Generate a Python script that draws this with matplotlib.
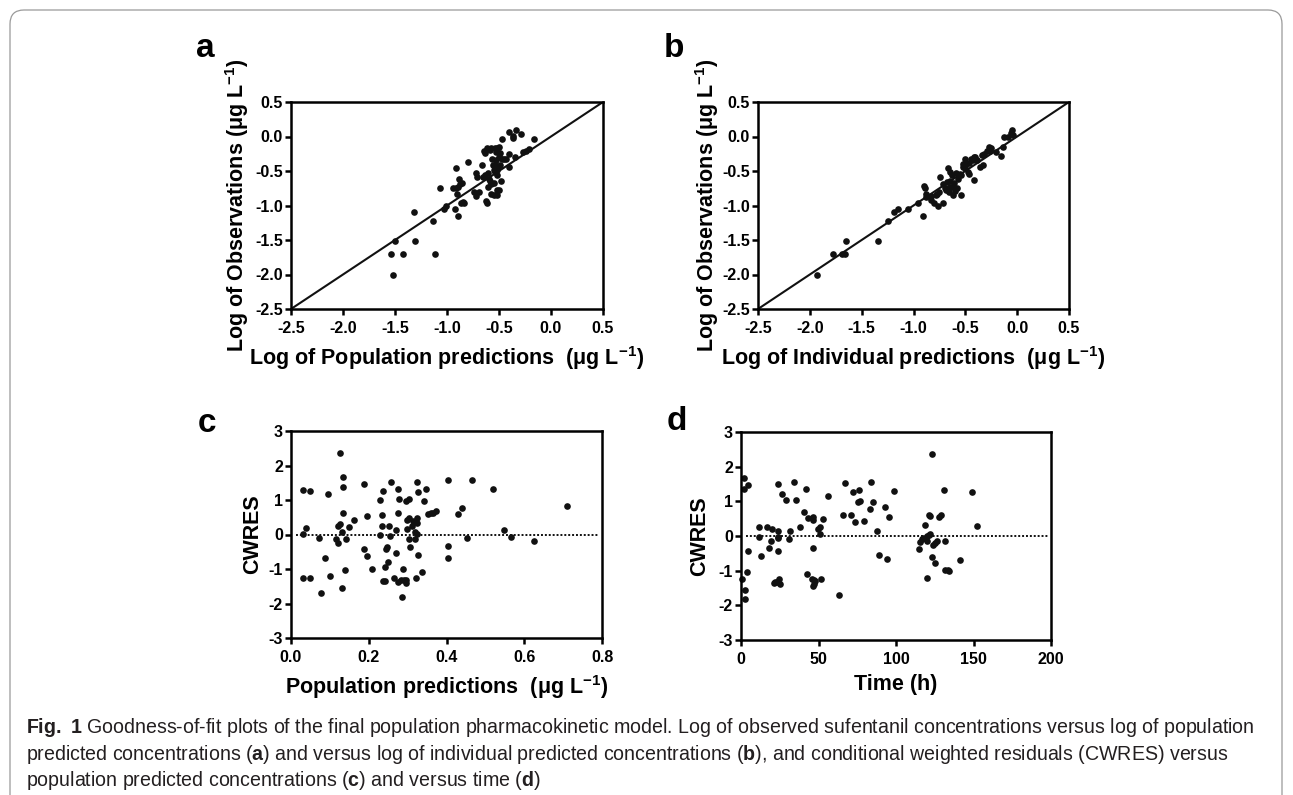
import matplotlib
matplotlib.use("Agg")
import matplotlib.pyplot as plt
from matplotlib import font_manager
from matplotlib.patches import FancyBboxPatch
from matplotlib.transforms import IdentityTransform

# panel a: log observations vs log population predictions
a_pred = [-1.54, -1.52, -1.50, -1.42, -1.32, -1.31, -1.13, -1.12, -1.07, -1.03,
          -1.01, -0.92, -0.89, -0.91, -0.94, -0.91, -0.88, -0.875, -0.89, -0.86,
          -0.90, -0.87, -0.84, -0.85, -0.80, -0.72, -0.74, -0.69, -0.72, -0.71,
          -0.64, -0.635, -0.65, -0.63, -0.61, -0.625, -0.62, -0.61, -0.60, -0.59,
          -0.58, -0.56, -0.57, -0.58, -0.55, -0.54, -0.52, -0.53, -0.535, -0.54,
          -0.52, -0.51, -0.545, -0.52, -0.515, -0.50, -0.50, -0.49, -0.48, -0.50,
          -0.47, -0.45, -0.47, -0.43, -0.40, -0.40, -0.40, -0.37, -0.37, -0.34,
          -0.29, -0.35, -0.27, -0.24, -0.21, -0.16, -0.62, -0.59, -0.53, -0.49,
          -0.55, -0.52, -0.58, -0.66]
a_obs = [-1.70, -2.00, -1.52, -1.70, -1.10, -1.52, -1.22, -1.70, -0.75, -1.05,
         -1.00, -1.05, -1.15, -0.46, -0.75, -0.75, -0.61, -0.69, -0.73, -0.68,
         -0.83, -0.96, -0.96, -0.95, -0.37, -0.53, -0.80, -0.80, -0.86, -0.58,
         -0.21, -0.24, -0.58, -0.56, -0.53, -0.94, -0.97, -0.73, -0.61, -0.65,
         -0.16, -0.42, -0.32, -0.84, -0.85, -0.17, -0.17, -0.34, -0.51, -0.41,
         -0.49, -0.44, -0.67, -0.78, -0.85, -0.15, -0.29, -0.41, -0.65, -0.78,
         -0.32, -0.32, -0.03, -0.32, -0.26, -0.44, 0.07, -0.02, 0.01, 0.09,
         0.03, -0.29, -0.22, -0.21, -0.18, -0.03, -0.16, -0.19, -0.22, -0.24,
         -0.49, -0.56, -0.69, -0.41]

# panel b: log observations vs log individual predictions
b_pred = [-1.93, -1.78, -1.69, -1.66, -1.65, -1.34, -1.25, -1.19, -1.15, -1.05,
          -0.955, -0.91, -0.90, -0.89, -0.875, -0.83, -0.80, -0.76, -0.77, -0.74,
          -0.72, -0.75, -0.70, -0.68, -0.67, -0.66, -0.65, -0.63, -0.63, -0.62,
          -0.61, -0.59, -0.585, -0.54, -0.57, -0.55, -0.52, -0.50, -0.47, -0.46,
          -0.45, -0.43, -0.42, -0.46, -0.41, -0.39, -0.36, -0.33, -0.32, -0.29,
          -0.27, -0.25, -0.20, -0.16, -0.14, -0.13, -0.09, -0.06, -0.05, -0.04,
          -0.50, -0.52, -0.49, -0.54, -0.65, -0.69, -0.60, -0.78, -0.72, -0.34,
          -0.26, -0.42, -0.83, -0.875, -0.65]
b_obs = [-2.01, -1.70, -1.70, -1.70, -1.52, -1.52, -1.23, -1.10, -1.05, -1.05,
         -0.97, -1.15, -0.72, -0.75, -0.84, -0.92, -0.97, -1.00, -0.84, -0.58,
         -0.96, -0.80, -0.75, -0.66, -0.45, -0.80, -0.64, -0.73, -0.56, -0.85,
         -0.68, -0.53, -0.75, -0.85, -0.62, -0.54, -0.40, -0.46, -0.51, -0.38,
         -0.32, -0.34, -0.63, -0.54, -0.30, -0.34, -0.44, -0.42, -0.25, -0.21,
         -0.15, -0.17, -0.22, -0.28, -0.15, -0.01, 0.00, 0.05, 0.09, 0.02,
         -0.32, -0.44, -0.40, -0.56, -0.73, -0.78, -0.79, -0.85, -0.69, -0.27,
         -0.21, -0.29, -0.86, -0.87, -0.51]

# panel c: CWRES vs population predictions
c_pred = [0.030, 0.032, 0.039, 0.032, 0.049, 0.050, 0.073, 0.077, 0.088, 0.096,
          0.101, 0.116, 0.120, 0.122, 0.126, 0.126, 0.131, 0.131, 0.133, 0.135,
          0.133, 0.138, 0.142, 0.148, 0.163, 0.187, 0.189, 0.195, 0.195, 0.209,
          0.228, 0.230, 0.233, 0.235, 0.236, 0.237, 0.241, 0.243, 0.244, 0.248,
          0.249, 0.251, 0.255, 0.258, 0.265, 0.269, 0.270, 0.274, 0.275, 0.277,
          0.275, 0.282, 0.286, 0.288, 0.290, 0.295, 0.295, 0.297, 0.298, 0.299,
          0.303, 0.304, 0.303, 0.306, 0.310, 0.315, 0.318, 0.318, 0.322, 0.323,
          0.323, 0.324, 0.325, 0.327, 0.327, 0.337, 0.342, 0.347, 0.353, 0.359,
          0.364, 0.372, 0.404, 0.404, 0.404, 0.430, 0.441, 0.454, 0.465, 0.519,
          0.548, 0.565, 0.626, 0.711]
c_cwres = [0.01, 1.30, 0.19, -1.25, 1.27, -1.27, -0.09, -1.71, -0.68, 1.16,
           -1.20, -0.14, -0.24, 0.24, 0.30, 2.37, 0.08, -1.55, 1.38, 1.67,
           0.61, -1.03, -0.14, 0.22, 0.43, -0.43, 1.46, -0.63, 0.53, -1.01,
           0.00, 1.01, 0.56, 0.25, 1.26, -1.35, -1.35, -0.94, -0.41, -0.36,
           -0.79, 0.25, -0.04, 1.51, -1.25, 0.13, -0.53, 1.31, 0.61, 1.04,
           -1.39, -1.32, -1.81, -0.99, -1.32, 0.97, -1.32, -1.42, 0.43, 0.15,
           0.49, 1.02, -0.14, -0.36, 0.24, 0.40, 0.06, -0.14, -1.25, 1.51,
           0.49, 0.32, 0.01, 1.22, -0.58, -1.10, 0.97, 1.33, 0.58, 0.61,
           0.63, 0.68, 1.57, -0.33, -0.69, 0.59, 0.77, -0.09, 1.57, 1.33,
           0.14, -0.07, -0.18, 0.83]

# panel d: CWRES vs time
d_time = [0.4, 2.2, 2.2, 2.4, 2.8, 3.9, 4.3, 4.7, 11.4, 11.8,
          12.9, 16.6, 18.3, 19.4, 20.0, 21.1, 21.9, 23.2, 23.7, 23.7,
          23.7, 23.7, 23.7, 24.3, 25.2, 26.2, 29.0, 31.2, 31.8, 34.0,
          35.7, 37.8, 40.4, 41.9, 42.6, 43.0, 45.6, 46.7, 46.7, 46.7,
          46.9, 46.9, 46.7, 47.7, 49.5, 51.0, 50.8, 51.6, 52.7, 56.3,
          63.0, 65.6, 66.9, 71.0, 72.0, 73.3, 75.7, 76.3, 77.0, 79.6,
          83.0, 83.9, 85.4, 87.5, 89.2, 92.9, 94.4, 95.3, 98.7, 115.1,
          115.7, 116.6, 117.2, 118.9, 119.8, 120.0, 120.0, 121.1, 121.5, 122.2,
          122.2, 123.0, 123.0, 124.1, 125.0, 125.2, 126.5, 128.0, 129.0, 130.8,
          131.6, 131.8, 133.3, 134.4, 141.3, 149.0, 152.0]
d_cwres = [-1.25, 1.36, 1.67, -1.55, -1.81, -1.05, 1.46, -0.43, 0.25, -0.03,
           -0.58, 0.25, -0.34, -0.15, 0.19, -1.35, -1.34, -1.32, 0.15, 1.50,
           -0.02, -0.07, -0.44, -1.24, -1.39, 1.22, 1.05, -0.10, 0.13, 1.57,
           1.05, 0.25, 0.68, 1.36, -1.10, 0.51, -1.23, 0.56, 0.46, -0.36,
           -1.28, -1.39, -1.45, -1.31, 0.20, 0.25, 0.06, -1.25, 0.49, 1.16,
           -1.71, 0.61, 1.54, 0.61, 1.26, 0.41, 0.98, 1.32, 1.02, 0.43,
           0.77, 1.57, 0.99, 0.15, -0.54, 0.84, -0.67, 0.56, 1.31, -0.38,
           -0.18, -0.09, -0.06, 0.32, 0.01, -1.20, -0.15, 0.61, 0.03, 0.59,
           0.06, 2.37, -0.62, -0.26, -0.79, -0.21, -0.14, 0.56, 0.61, 1.34,
           -0.15, -0.97, -0.99, -1.02, -0.70, 1.27, 0.30]

log_ticks = [-2.5, -2.0, -1.5, -1.0, -0.5, 0.0, 0.5]
cwres_ticks = [-3, -2, -1, 0, 1, 2, 3]
pred_ticks = [0.0, 0.2, 0.4, 0.6, 0.8]
time_ticks = [0, 50, 100, 150, 200]

caption_lines = [
    r"$\mathbf{Fig.}$ $\mathbf{1}$ Goodness-of-fit plots of the final population pharmacokinetic model. "
    r"Log of observed sufentanil concentrations versus log of population",
    r"predicted concentrations ($\mathbf{a}$) and versus log of individual predicted concentrations "
    r"($\mathbf{b}$), and conditional weighted residuals (CWRES) versus",
    r"population predicted concentrations ($\mathbf{c}$) and versus time ($\mathbf{d}$)",
]

names = {f.name for f in font_manager.fontManager.ttflist}
cap_font = "Liberation Sans Narrow" if "Liberation Sans Narrow" in names else "Liberation Sans"

plt.rcParams['font.family'] = ['Liberation Sans', 'DejaVu Sans']
plt.rcParams['axes.unicode_minus'] = False
plt.rcParams['mathtext.fontset'] = 'custom'
plt.rcParams['mathtext.rm'] = cap_font
plt.rcParams['mathtext.bf'] = cap_font + ':bold'

W, H = 1293, 795
fig = plt.figure(figsize=(W / 100, H / 100), dpi=100)


def px_axes(left, top, right, bottom):
    return fig.add_axes([left / W, 1 - bottom / H, (right - left) / W, (bottom - top) / H])


def style(ax, xticks, yticks, fmt_x, fmt_y):
    for s in ax.spines.values():
        s.set_linewidth(1.8)
    ax.set_xlim(xticks[0], xticks[-1])
    ax.set_ylim(yticks[0], yticks[-1])
    ax.set_xticks(xticks)
    ax.set_yticks(yticks)
    ax.set_xticklabels([fmt_x.format(v) for v in xticks])
    ax.set_yticklabels([fmt_y.format(v) for v in yticks])
    ax.tick_params(direction='out', length=4.3, width=1.8, labelsize=11.5)
    ax.tick_params(axis='x', pad=4.5)
    ax.tick_params(axis='y', pad=1.5)
    for lab in ax.get_xticklabels() + ax.get_yticklabels():
        lab.set_fontweight('bold')


def dots(ax, x, y):
    ax.plot(x, y, 'o', color='#111111', markersize=4.8, markeredgewidth=0, clip_on=False)


sup = r"$^{\mathbf{-1}}$"
unit = "  (\u03bcg L" + sup + ")"
lab_kw = dict(fontsize=15.5, fontweight='bold', ha='center', va='center')

# a
ax_a = px_axes(291, 102, 603, 309)
style(ax_a, log_ticks, log_ticks, "{:.1f}", "{:.1f}")
ax_a.axline((log_ticks[0], log_ticks[0]), slope=1, color='#111111', lw=1.5)
dots(ax_a, a_pred, a_obs)
ax_a.text(0.5, -0.237, "Log of Population predictions" + unit, transform=ax_a.transAxes, **lab_kw)
ax_a.text(-0.173, 0.5, "Log of Observations (\u03bcg L" + sup + ")", rotation=90,
          transform=ax_a.transAxes, **lab_kw)

# b
ax_b = px_axes(758, 102, 1069, 309)
style(ax_b, log_ticks, log_ticks, "{:.1f}", "{:.1f}")
ax_b.axline((log_ticks[0], log_ticks[0]), slope=1, color='#111111', lw=1.5)
dots(ax_b, b_pred, b_obs)
ax_b.text(0.5, -0.237, "Log of Individual predictions" + unit, transform=ax_b.transAxes, **lab_kw)
ax_b.text(-0.165, 0.5, "Log of Observations (\u03bcg L" + sup + ")", rotation=90,
          transform=ax_b.transAxes, **lab_kw)

# c
ax_c = px_axes(291, 431, 602, 638)
style(ax_c, pred_ticks, cwres_ticks, "{:.1f}", "{:d}")
ax_c.axhline(0, color='#111111', lw=1.4, linestyle=(0, (1, 1.0)), xmin=0.015, xmax=0.99)
dots(ax_c, c_pred, c_cwres)
ax_c.text(0.5, -0.238, "Population predictions" + unit, transform=ax_c.transAxes, **lab_kw)
ax_c.text(-0.123, 0.5, "CWRES", rotation=90, transform=ax_c.transAxes, **lab_kw)

# d
ax_d = px_axes(741, 432, 1051, 640)
style(ax_d, time_ticks, cwres_ticks, "{:d}", "{:d}")
ax_d.axhline(0, color='#111111', lw=1.4, linestyle=(0, (1, 1.0)), xmin=0.015, xmax=0.99)
dots(ax_d, d_time, d_cwres)
ax_d.text(0.5, -0.215, "Time (h)", transform=ax_d.transAxes, **lab_kw)
ax_d.text(-0.133, 0.5, "CWRES", rotation=90, transform=ax_d.transAxes, **lab_kw)

# panel letters
for letter, x0, y0 in [("a", 196, 57), ("b", 664, 57), ("c", 198, 432), ("d", 667, 430)]:
    fig.text(x0 / W, 1 - y0 / H, letter, fontsize=24, fontweight='bold', ha='left', va='baseline')

# caption, sized so the first line spans the measured width
cap_kw = dict(family=cap_font, color='#231f20', ha='left', va='baseline')
t0 = fig.text(26 / W, 1 - 733 / H, caption_lines[0], fontsize=14, **cap_kw)
fig.canvas.draw()
w0 = t0.get_window_extent(fig.canvas.get_renderer()).width
size = 14 * 1229 / w0
t0.set_fontsize(size)
for line, y0 in zip(caption_lines[1:], [760, 786]):
    fig.text(26 / W, 1 - y0 / H, line, fontsize=size, **cap_kw)

# rounded frame around the figure
frame = FancyBboxPatch((10, -30), 1272, 785 + 30, boxstyle="round,pad=0,rounding_size=14",
                       transform=IdentityTransform(), fill=False, edgecolor='#9a9a9a', lw=0.9)
fig.add_artist(frame)

fig.savefig("out.png", dpi=100)
